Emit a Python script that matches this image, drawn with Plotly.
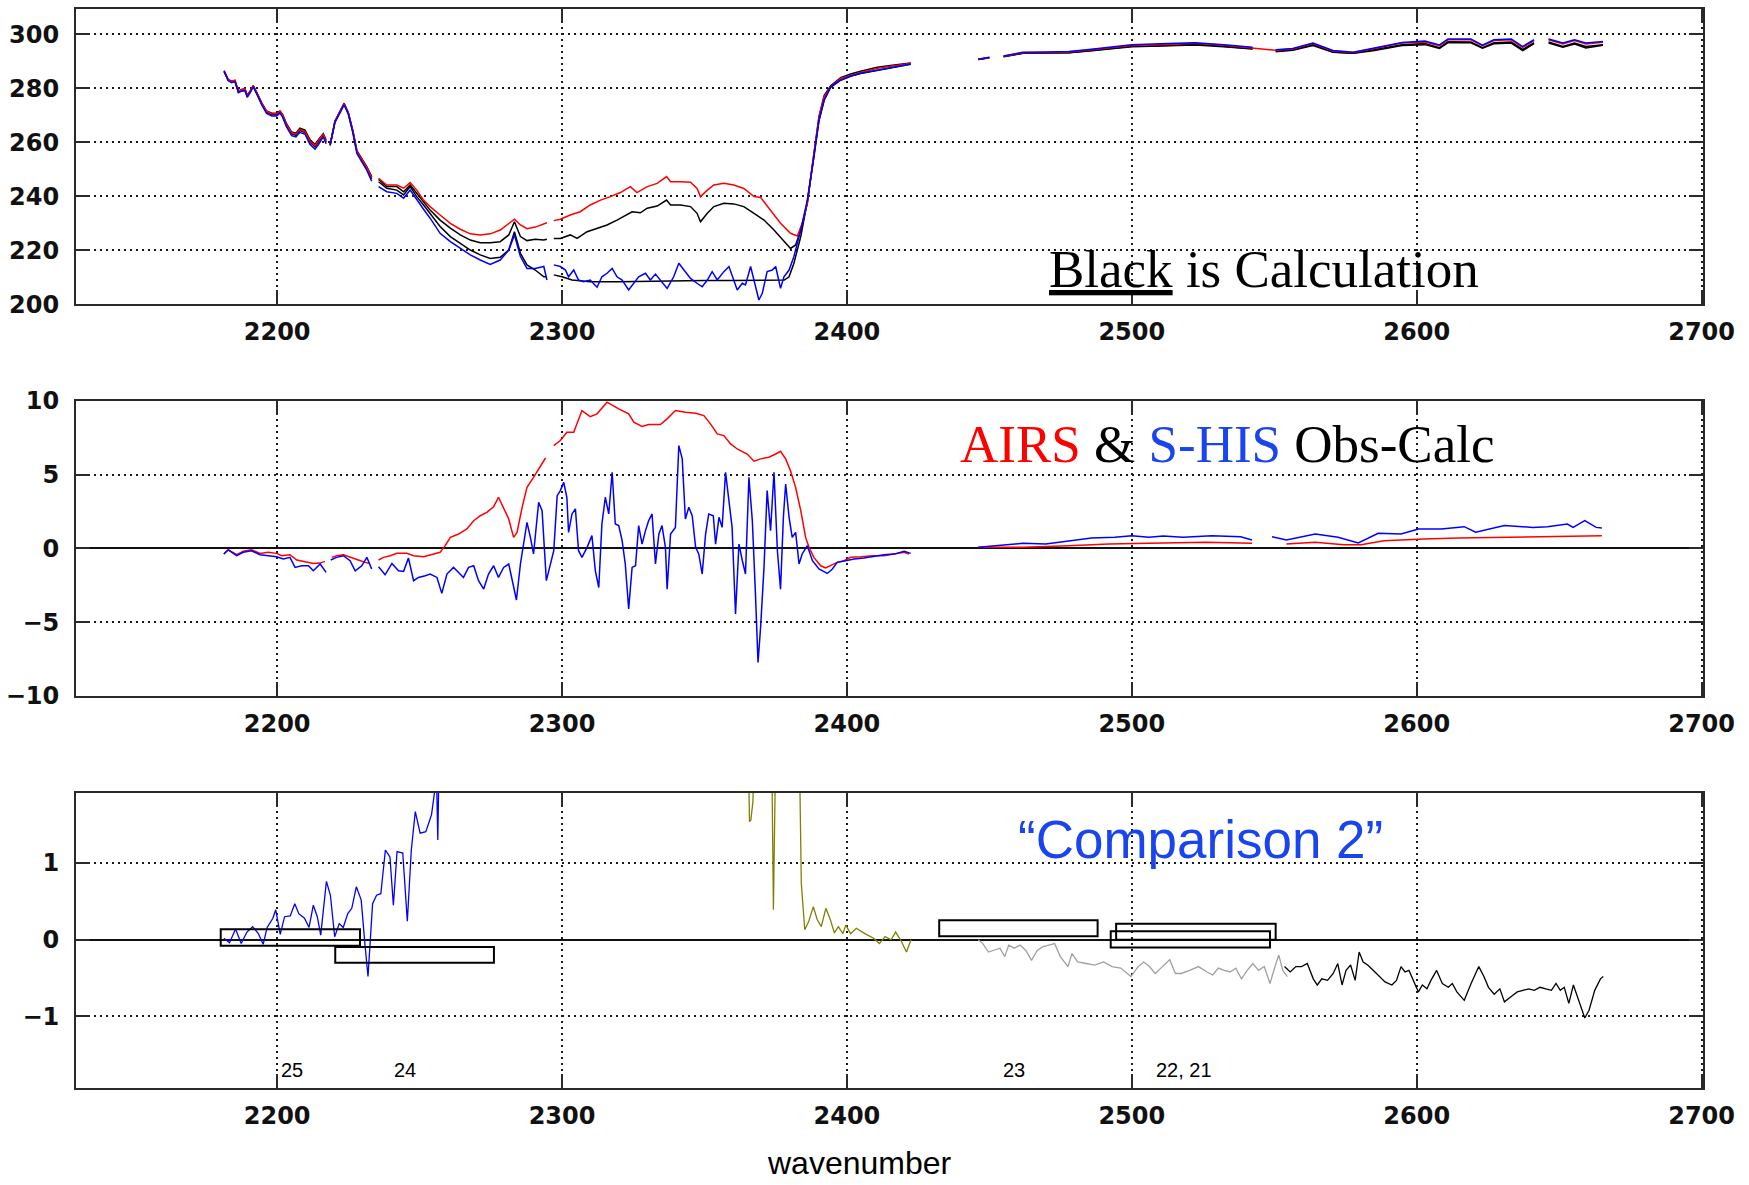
import plotly.graph_objects as go

# ======================= DATA =======================
# ---- Panel 1 : brightness temperature (K) ----
BT_X_A = [2181.4, 2182.8, 2184.0, 2185.2, 2186.4, 2187.5, 2188.7, 2189.5, 2190.5, 2191.6,
          2192.8, 2194.6, 2196.3, 2198.1, 2199.8, 2201.0, 2201.9, 2203.3, 2205.1, 2206.6,
          2208.0, 2209.8, 2211.5, 2213.3, 2214.5, 2216.2, 2217.2]
AIRS_CALC_A = [286.3, 283.3, 282.7, 282.9, 279.0, 279.6, 279.8, 277.5, 279.0, 281.0,
               278.6, 274.6, 271.6, 270.8, 270.8, 271.6, 270.4, 266.9, 263.8, 263.4,
               265.3, 264.5, 261.0, 259.2, 261.0, 263.2, 260.9]
AIRS_OBS_A = [286.6, 283.3, 282.6, 283.0, 278.9, 279.5, 279.8, 277.4, 278.9, 281.0,
              278.5, 274.5, 271.5, 270.6, 270.6, 271.6, 270.3, 266.6, 263.5, 263.0,
              264.8, 264.0, 260.5, 258.8, 260.6, 263.0, 260.4]
SHIS_CALC_A = [286.2, 283.0, 282.3, 282.6, 278.6, 279.2, 279.4, 277.0, 278.6, 280.7,
               278.2, 274.2, 271.1, 270.2, 270.2, 271.1, 269.8, 266.2, 263.1, 262.6,
               264.4, 263.6, 260.1, 258.3, 260.1, 262.4, 260.1]
SHIS_OBS_A = [286.4, 282.9, 282.1, 282.5, 278.4, 279.0, 279.1, 276.7, 278.3, 280.6,
              278.0, 273.9, 270.7, 269.8, 269.8, 270.8, 269.4, 265.7, 262.5, 262.0,
              263.7, 263.0, 259.3, 257.5, 259.2, 262.0, 259.5]

BT_X_B = [2218.6, 2220.3, 2222.1, 2223.5, 2225.0, 2226.6, 2228.0, 2229.7, 2231.5, 2233.2]
AIRS_CALC_B = [259.2, 267.9, 271.6, 274.5, 271.0, 264.3, 256.9, 254.0, 250.9, 247.3]
AIRS_OBS_B = [259.1, 267.8, 271.5, 274.4, 270.9, 264.1, 256.7, 253.8, 250.6, 247.0]
SHIS_CALC_B = [259.0, 267.6, 271.3, 274.2, 270.7, 263.8, 256.4, 253.3, 250.2, 246.5]
SHIS_OBS_B = [258.8, 267.4, 271.0, 273.9, 270.4, 263.4, 255.9, 252.8, 249.6, 245.6]

BT_X_C = [2235.6, 2238.5, 2242.0, 2244.4, 2246.7, 2249.0, 2251.4, 2253.7, 2257.2, 2260.8,
          2264.3, 2267.8, 2271.3, 2274.8, 2278.3, 2281.3, 2283.3, 2285.4, 2287.7, 2290.6,
          2293.6, 2294.7]
AIRS_OBS_C = [246.7, 244.2, 244.2, 243.0, 245.1, 242.3, 238.6, 236.2, 233.1, 230.0,
              227.8, 226.1, 225.7, 226.1, 227.5, 230.0, 231.5, 229.4, 228.0, 228.6,
              229.8, 230.2]
AIRS_CALC_C = [246.3, 243.6, 243.6, 241.7, 244.2, 241.1, 237.7, 234.9, 231.2, 228.2,
               225.7, 223.8, 222.8, 222.8, 223.2, 225.7, 230.6, 225.1, 223.6, 224.1,
               223.8, 224.1]
SHIS_CALC_C = [245.4, 243.0, 242.3, 240.5, 243.6, 239.9, 236.8, 233.7, 228.8, 225.1,
               222.6, 220.1, 218.3, 217.0, 217.4, 220.1, 226.9, 218.9, 214.6, 212.7,
               210.2, 210.2]
SHIS_OBS_C = [243.6, 241.7, 241.1, 239.3, 242.3, 238.6, 235.2, 231.9, 226.3, 223.2,
              220.7, 218.3, 216.4, 214.8, 216.4, 220.1, 225.7, 217.7, 213.3, 213.3,
              214.0, 209.0]

AIRS_OBS_D_X = [2297.1, 2299.4, 2302.9, 2306.4, 2309.9, 2313.5, 2317.0, 2320.5, 2324.0, 2326.3,
                2329.9, 2333.4, 2336.7, 2338.1, 2341.6, 2345.1, 2347.4, 2348.6, 2351.0, 2353.3,
                2356.8, 2360.3, 2363.8, 2367.4, 2369.7, 2373.2, 2376.7, 2380.2, 2382.6, 2384.3,
                2386.1, 2388.4, 2390.2, 2392.0, 2394.3, 2397.8, 2401.3, 2404.8, 2410.7, 2416.6,
                2422.4]
AIRS_OBS_D = [231.0, 231.5, 233.1, 234.3, 236.8, 238.6, 239.9, 241.4, 243.6, 241.4,
              243.6, 244.8, 247.3, 245.4, 245.4, 245.2, 242.9, 239.9, 242.3, 244.2,
              244.8, 244.2, 242.9, 239.9, 239.6, 234.9, 230.0, 226.3, 225.3, 230.0,
              237.4, 255.9, 269.5, 276.9, 280.6, 283.7, 284.9, 285.9, 287.4, 288.4,
              289.3]
AIRS_CALC_D_X = [2297.1, 2299.4, 2302.9, 2305.3, 2308.8, 2312.3, 2315.8, 2319.3, 2322.8, 2324.6,
                 2327.5, 2329.9, 2333.4, 2336.7, 2338.1, 2341.6, 2345.1, 2347.4, 2348.6, 2351.0,
                 2353.3, 2356.8, 2360.3, 2363.8, 2367.4, 2370.9, 2374.4, 2377.9, 2380.2, 2382.0,
                 2383.8, 2386.1, 2388.4, 2390.2, 2392.0, 2394.3, 2397.8, 2401.3, 2404.8, 2410.7,
                 2416.6, 2422.4]
AIRS_CALC_D = [224.4, 224.4, 225.7, 224.4, 226.9, 228.2, 229.4, 231.2, 233.1, 234.3,
               233.9, 235.6, 236.4, 238.6, 236.8, 236.8, 236.2, 233.7, 230.6, 233.7,
               236.2, 237.4, 237.2, 236.2, 233.7, 231.2, 227.5, 223.2, 220.7, 222.0,
               227.5, 237.4, 255.5, 269.5, 277.3, 281.0, 284.0, 285.3, 286.3, 287.8,
               288.7, 289.4]
SHIS_CALC_D_X = [2297.1, 2300.0, 2303.5, 2309.9, 2320.0, 2330.0, 2340.0, 2350.0, 2360.0, 2370.0,
                 2378.0, 2379.7, 2381.4, 2383.8, 2386.1, 2388.4, 2390.2, 2392.0, 2394.3, 2397.8,
                 2401.3, 2404.8, 2410.7, 2416.6, 2422.4]
SHIS_CALC_D = [210.9, 210.2, 209.0, 208.4, 208.4, 208.6, 208.8, 208.8, 208.8, 208.8,
               209.0, 210.2, 215.2, 225.1, 238.0, 254.5, 268.0, 275.5, 280.4, 283.0,
               284.5, 285.5, 286.7, 287.9, 288.9]
SHIS_OBS_D_X = [2297.1, 2299.4, 2301.2, 2302.3, 2304.1, 2305.8, 2307.6, 2309.9, 2312.3, 2314.0,
                2315.8, 2317.6, 2319.3, 2321.1, 2323.4, 2325.2, 2326.9, 2329.3, 2331.0, 2332.8,
                2334.5, 2336.9, 2339.2, 2341.0, 2342.8, 2345.1, 2347.4, 2349.2, 2351.0, 2352.7,
                2354.5, 2356.8, 2358.6, 2360.3, 2361.5, 2363.3, 2364.4, 2366.2, 2367.9, 2369.1,
                2370.3, 2372.0, 2373.8, 2375.0, 2376.7, 2377.9, 2379.7, 2381.4, 2383.8, 2386.1,
                2388.4, 2390.2, 2392.0, 2394.3, 2397.8, 2401.3, 2404.8, 2410.7, 2416.6, 2422.4]
SHIS_OBS_D = [214.6, 214.0, 212.7, 210.2, 212.7, 209.0, 208.4, 209.0, 206.3, 210.2,
              211.5, 213.3, 210.2, 209.0, 205.3, 207.8, 210.2, 211.5, 209.0, 211.2,
              209.0, 205.9, 210.2, 215.2, 212.7, 209.6, 207.8, 206.5, 209.0, 212.1,
              209.0, 212.1, 214.0, 209.0, 205.3, 207.8, 207.2, 214.0, 206.5, 201.6,
              204.1, 212.1, 212.7, 214.0, 205.9, 210.2, 212.7, 217.7, 227.5, 238.6,
              254.7, 268.3, 275.7, 280.6, 283.1, 284.6, 285.6, 286.8, 288.0, 289.0]

BT_X_R = [2446.1, 2450.0, 2452.0, 2455.0, 2461.8, 2470.0, 2477.9, 2485.0, 2492.0, 2500.0,
          2510.0, 2522.2, 2532.3, 2542.4, 2546.0, 2550.5, 2556.5, 2563.6, 2570.6, 2577.7,
          2584.7, 2594.9, 2602.9, 2608.0, 2611.0, 2619.0, 2623.1, 2627.1, 2633.2, 2637.2,
          2641.2, 2643.5, 2646.3, 2651.3, 2655.4, 2659.4, 2665.4]
AIRS_OBS_R = [290.8, 291.4, None, 291.9, 293.2, 293.3, 293.5, 294.2, 295.0, 295.9,
              296.2, 296.7, 296.0, 295.0, 294.4, 294.1, 294.6, 296.6, 293.8, 293.3,
              294.7, 296.8, 297.2, 295.8, 298.0, 298.0, 295.8, 297.7, 298.0, 295.2,
              297.7, None, 298.0, 296.4, 297.7, 296.4, 297.1]
AIRS_CALC_R = [290.7, 291.3, None, 291.8, 293.0, 293.1, 293.2, 293.9, 294.7, 295.6,
               295.8, 296.3, 295.6, 294.7, None, 293.8, 294.3, 296.2, 293.5, 293.0,
               294.2, 296.2, 296.6, 295.1, 297.3, 297.2, 295.1, 296.9, 297.2, 294.4,
               296.9, None, 297.2, 295.5, 296.8, 295.5, 296.2]
SHIS_OBS_R = [290.8, 291.5, None, 292.0, 293.4, 293.5, 293.7, 294.4, 295.3, 296.2,
              296.5, 296.9, 296.2, 295.2, None, 294.3, 294.8, 296.8, 294.0, 293.4,
              294.9, 297.0, 297.5, 296.1, 298.3, 298.3, 296.0, 298.0, 298.3, 295.5,
              298.0, None, 298.3, 296.8, 298.0, 296.8, 297.4]
SHIS_CALC_R = [290.7, 291.3, None, 291.7, 293.0, 293.2, 293.2, 293.8, 294.6, 295.4,
               295.7, 296.1, 295.4, 294.6, None, 293.6, 294.1, 295.9, 293.4, 293.0,
               293.9, 295.9, 296.2, 294.8, 296.9, 296.9, 294.9, 296.5, 296.8, 294.0,
               296.6, None, 296.8, 295.2, 296.4, 295.0, 296.0]

# ---- Panel 2 : Obs - Calc (K) ----
AIRS_DIFF_X_A = [2181.3, 2182.8, 2185.8, 2188.1, 2191.0, 2194.0, 2196.9, 2199.8, 2201.6, 2204.5,
                 2206.9, 2209.8, 2212.7, 2215.1, 2216.8]
AIRS_DIFF_A = [-0.38, -0.09, -0.43, -0.2, -0.09, -0.34, -0.27, -0.34, -0.5, -0.43,
               -0.79, -0.88, -1.02, -1.0, -0.88]
AIRS_DIFF_X_B = [2219.2, 2220.9, 2223.3, 2225.6, 2228.5, 2230.9, 2232.6]
AIRS_DIFF_B = [-0.61, -0.5, -0.43, -0.57, -0.79, -0.95, -1.02]
AIRS_DIFF_X_C = [2235.6, 2237.3, 2239.7, 2242.0, 2245.5, 2247.9, 2251.4, 2254.3, 2257.2, 2259.0,
                 2260.8, 2263.7, 2266.6, 2269.0, 2271.3, 2273.6, 2276.0, 2277.7, 2279.5, 2281.3,
                 2283.0, 2284.2, 2286.0, 2287.7, 2290.0, 2292.4, 2294.2]
AIRS_DIFF_C = [-0.79, -0.61, -0.5, -0.34, -0.34, -0.5, -0.57, -0.43, -0.27, 0.18,
               0.74, 0.97, 1.31, 1.87, 2.21, 2.44, 2.82, 3.46, 2.73, 1.99,
               0.74, 1.08, 2.78, 4.13, 4.81, 5.6, 6.12]
AIRS_DIFF_X_D = [2297.1, 2299.4, 2301.7, 2304.1, 2307.0, 2309.9, 2312.3, 2315.8, 2319.9, 2323.4,
                 2325.2, 2328.1, 2330.4, 2334.5, 2336.9, 2339.8, 2343.3, 2346.9, 2349.8, 2352.1,
                 2354.5, 2356.8, 2359.2, 2361.5, 2365.0, 2367.4, 2369.7, 2372.6, 2375.0, 2376.7,
                 2378.5, 2380.2, 2382.0, 2383.8, 2385.5, 2386.7, 2388.4, 2390.8, 2392.5, 2394.3,
                 2396.6, 2399.0, 2401.3, 2404.9, 2409.0, 2413.0, 2416.6, 2420.1, 2421.8]
AIRS_DIFF_D = [6.96, 7.3, 7.86, 7.86, 9.33, 8.92, 9.11, 9.9, 9.45, 9.11,
               8.54, 8.25, 8.38, 8.38, 8.77, 9.33, 9.22, 9.15, 8.99, 8.43,
               7.75, 7.64, 7.07, 6.73, 6.39, 5.9, 6.06, 6.17, 6.39, 6.57,
               6.06, 5.26, 4.13, 2.55, 0.74, 0.07, -0.61, -1.18, -1.33, -1.18,
               -0.95, -0.84, -0.61, -0.57, -0.5, -0.5, -0.39, -0.27, -0.39]
AIRS_DIFF_X_R = [2446.1, 2461.8, 2477.9, 2492.0, 2506.0, 2526.1, 2542.2, 2546.0, 2554.3, 2564.4,
                 2574.4, 2580.5, 2588.5, 2596.6, 2602.6, 2614.7, 2626.8, 2642.9, 2652.9, 2665.0]
AIRS_DIFF_R = [0.07, 0.07, 0.18, 0.29, 0.34, 0.41, 0.34, None, 0.29, 0.41,
               0.25, 0.25, 0.52, 0.56, 0.63, 0.7, 0.75, 0.79, 0.86, 0.86]

SHIS_DIFF_X_A = [2181.3, 2182.8, 2185.8, 2188.1, 2191.0, 2194.0, 2196.9, 2199.8, 2202.2, 2204.5,
                 2206.3, 2208.6, 2211.0, 2212.7, 2215.1, 2217.2]
SHIS_DIFF_A = [-0.38, -0.11, -0.5, -0.27, -0.16, -0.43, -0.5, -0.57, -0.72, -0.61,
               -1.29, -1.18, -1.18, -1.52, -1.06, -1.63]
SHIS_DIFF_X_B = [2218.8, 2220.9, 2223.3, 2225.6, 2227.4, 2229.7, 2231.5, 2233.2]
SHIS_DIFF_B = [-0.79, -0.61, -0.5, -0.84, -1.52, -1.18, -0.61, -1.4]
SHIS_DIFF_X_C = [2235.6, 2237.9, 2240.3, 2242.6, 2244.4, 2246.1, 2247.9, 2249.6, 2252.0, 2253.7,
                 2256.1, 2257.8, 2259.6, 2261.9, 2263.7, 2265.4, 2267.2, 2269.0, 2270.7, 2272.5,
                 2274.2, 2276.0, 2277.7, 2279.5, 2281.3, 2283.0, 2284.0, 2285.4, 2286.5, 2287.7,
                 2288.9, 2290.0, 2291.8, 2293.0, 2294.5,
                 2297.1, 2298.3, 2299.4, 2300.6, 2301.7, 2302.3, 2303.5, 2304.7, 2305.8, 2307.0,
                 2308.8, 2310.5, 2311.7, 2312.9, 2314.0, 2315.2, 2316.4, 2317.6, 2318.7, 2319.9,
                 2321.1, 2322.2, 2323.4, 2324.6, 2325.8, 2326.9, 2328.1, 2329.3, 2330.4, 2331.6,
                 2332.8, 2334.0, 2335.1, 2336.3, 2336.9, 2338.1, 2339.8, 2341.0, 2342.2, 2343.3,
                 2344.5, 2345.7, 2346.9, 2348.0, 2349.2, 2350.4, 2351.5, 2353.1, 2353.9, 2355.1,
                 2356.2, 2357.4, 2358.6, 2359.7, 2360.9, 2362.1, 2363.3, 2364.4, 2365.6, 2366.8,
                 2367.9, 2368.8, 2369.7, 2370.9, 2372.0, 2373.2, 2374.4, 2375.6, 2376.7, 2377.7,
                 2378.5, 2379.7, 2380.8, 2382.0, 2383.2, 2384.3, 2386.1, 2387.9, 2390.2, 2393.1,
                 2394.9, 2396.6, 2399.6, 2402.5, 2406.0, 2409.5, 2413.0, 2416.6, 2420.1, 2422.4]
SHIS_DIFF_C = [-1.24, -1.79, -1.02, -1.52, -1.56, -0.66, -2.19, -1.97, -1.85, -1.74,
               -1.97, -3.05, -1.74, -1.29, -1.63, -1.97, -1.29, -1.18, -2.19, -2.76,
               -1.74, -1.18, -1.97, -1.29, -1.06, -2.53, -3.5, -1.06, 0.29, 1.76,
               0.74, -0.38, 3.12, 2.55, -2.19,
               -0.16, 3.57, 3.91, 4.47, 3.46, 1.08, 2.33, 2.67, -0.16, -0.61,
               0.07, 0.86, -1.52, -2.65, 1.65, 3.46, 2.33, 5.15, 1.65, 1.54,
               0.52, -1.06, -4.11, -1.29, -1.18, 1.54, 0.29, 1.2, 1.87, 2.33,
               -1.06, 0.97, 1.54, 0.07, -2.76, 0.97, 1.42, 6.96, 6.06, 1.99,
               2.78, 2.21, 0.07, -0.38, -1.74, 0.97, 2.33, 2.21, 0.29, 2.1,
               1.42, 5.15, 3.34, 1.42, -4.45, 0.29, -0.84, -1.74, 4.81, 1.87,
               -3.1, -7.73, -5.36, -1.29, 3.91, 1.2, 5.15, -0.16, -2.76, 2.1,
               4.36, 2.1, 0.74, 1.08, -1.06, -0.38, 0.18, -0.84, -1.4, -1.7,
               -1.4, -0.95, -0.84, -0.72, -0.66, -0.57, -0.43, -0.39, -0.2, -0.34]
SHIS_DIFF_X_R = [2446.1, 2453.7, 2461.8, 2469.8, 2477.9, 2485.9, 2494.0, 2500.0, 2506.0, 2511.0,
                 2518.0, 2528.1, 2538.2, 2542.2, 2545.5, 2549.2, 2554.3, 2564.4, 2572.4, 2579.5,
                 2586.5, 2594.5, 2600.6, 2608.6, 2616.7, 2620.7, 2630.8, 2640.8, 2645.9, 2652.9,
                 2654.9, 2659.0, 2663.0, 2665.0]
SHIS_DIFF_R = [0.07, 0.18, 0.34, 0.29, 0.52, 0.7, 0.75, 0.86, 0.75, 0.84,
               0.75, 0.86, 0.79, 0.56, None, 0.79, 0.56, 0.97, 0.75, 0.36,
               1.02, 0.97, 1.31, 1.31, 1.47, 1.09, 1.54, 1.42, 1.47, 1.65,
               1.42, 1.88, 1.42, 1.38]

# ---- Panel 3 : "Comparison 2" (K) ----
CMP_BLUE_X = [2181.3, 2183.3, 2185.4, 2187.4, 2189.4, 2191.4, 2193.4, 2195.1, 2196.5, 2198.5,
              2199.5, 2201.1, 2202.6, 2204.6, 2206.2, 2207.6, 2209.6, 2211.2, 2212.7, 2214.1,
              2215.3, 2216.3, 2217.3, 2218.7, 2220.2, 2221.8, 2223.2, 2224.8, 2226.2, 2227.8,
              2229.5, 2230.9, 2231.9, 2233.5, 2234.9, 2236.4, 2238.0, 2239.6, 2240.8, 2242.1,
              2244.1, 2245.7, 2247.1, 2248.5, 2250.2, 2252.2, 2254.2, 2255.2, 2255.8, 2256.4,
              2256.9]
CMP_BLUE = [0.02, -0.04, 0.14, -0.05, 0.10, 0.17, 0.08, -0.06, 0.16, 0.28,
            0.39, 0.07, 0.30, 0.31, 0.47, 0.34, 0.28, 0.16, 0.45, 0.30,
            0.06, 0.39, 0.76, 0.58, 0.04, 0.21, 0.16, 0.34, 0.41, 0.69,
            0.52, -0.09, -0.48, 0.47, 0.58, 0.60, 1.17, 1.08, 0.45, 1.15,
            1.13, 0.24, 1.17, 1.67, 1.39, 1.41, 1.63, 1.91, 2.4, 1.30,
            2.5]
CMP_OLIVE_X = [2365.4, 2365.8, 2366.3, 2367.0, 2367.5, 2373.6, 2374.2, 2374.6, 2375.0, 2383.3,
               2384.0, 2385.2, 2386.6, 2388.2, 2389.6, 2391.0, 2392.6, 2394.2, 2395.6, 2397.0,
               2398.6, 2399.6, 2401.3, 2403.3, 2406.3, 2409.4, 2411.4, 2413.4, 2415.5, 2417.1,
               2419.1, 2420.9, 2422.5]
CMP_OLIVE = [2.5, 1.54, 1.56, 1.8, 2.5, 2.5, 0.39, 1.17, 2.5, 2.5,
             0.73, 0.13, 0.24, 0.43, 0.26, 0.17, 0.41, 0.26, 0.09, 0.17,
             0.08, 0.19, 0.08, 0.15, 0.08, 0.02, -0.05, 0.04, 0.0, 0.10,
             -0.02, -0.16, 0.0]
CMP_GREY_X = [2446.1, 2447.7, 2449.7, 2451.7, 2453.7, 2455.4, 2456.8, 2458.8, 2460.8, 2462.8,
              2464.8, 2466.8, 2468.9, 2470.9, 2472.9, 2474.9, 2477.6, 2479.0, 2481.0, 2484.0,
              2487.0, 2490.1, 2493.1, 2496.1, 2499.7, 2502.2, 2504.2, 2506.2, 2508.2, 2510.2,
              2513.3, 2515.3, 2517.3, 2520.3, 2523.4, 2526.4, 2528.4, 2530.4, 2532.4, 2534.5,
              2536.5, 2538.5, 2540.5, 2542.5, 2544.5, 2546.5, 2548.5, 2550.6, 2551.6, 2553.0,
              2554.6]
CMP_GREY = [0.0, -0.05, -0.16, -0.14, -0.11, -0.22, -0.07, -0.11, -0.07, -0.14,
            -0.27, -0.14, -0.09, -0.07, -0.05, -0.22, -0.35, -0.18, -0.29, -0.31,
            -0.33, -0.29, -0.35, -0.37, -0.48, -0.35, -0.29, -0.35, -0.44, -0.37,
            -0.26, -0.44, -0.44, -0.40, -0.35, -0.42, -0.46, -0.37, -0.40, -0.42,
            -0.37, -0.51, -0.40, -0.31, -0.40, -0.35, -0.57, -0.31, -0.20, -0.40,
            -0.48]
CMP_BLACK_X = [2553.6, 2555.6, 2557.6, 2559.6, 2561.6, 2563.7, 2565.1, 2566.7, 2568.7, 2570.7,
               2572.3, 2573.8, 2575.2, 2576.8, 2578.4, 2579.8, 2581.2, 2582.8, 2584.8, 2586.9,
               2588.9, 2591.3, 2592.9, 2594.5, 2595.9, 2597.3, 2598.9, 2600.6, 2602.0, 2603.6,
               2605.0, 2607.0, 2609.0, 2611.1, 2612.5, 2614.1, 2616.7, 2619.1, 2621.8, 2623.6,
               2625.2, 2627.2, 2629.2, 2630.8, 2633.2, 2635.3, 2637.3, 2639.3, 2641.3, 2643.3,
               2645.3, 2647.3, 2648.9, 2650.4, 2651.8, 2653.4, 2655.0, 2656.4, 2657.8, 2659.0,
               2660.5, 2662.5, 2664.5, 2665.5]
CMP_BLACK = [-0.35, -0.42, -0.35, -0.35, -0.31, -0.51, -0.59, -0.51, -0.53, -0.44,
             -0.31, -0.59, -0.40, -0.33, -0.53, -0.16, -0.29, -0.33, -0.40, -0.48,
             -0.55, -0.59, -0.53, -0.35, -0.42, -0.40, -0.53, -0.68, -0.59, -0.64,
             -0.53, -0.40, -0.57, -0.62, -0.57, -0.68, -0.79, -0.57, -0.35, -0.48,
             -0.62, -0.71, -0.64, -0.81, -0.74, -0.68, -0.66, -0.64, -0.66, -0.62,
             -0.64, -0.66, -0.57, -0.66, -0.62, -0.83, -0.59, -0.74, -0.92, -1.02,
             -0.92, -0.66, -0.51, -0.48]

# band boxes in panel 3: (x0, x1, y0, y1)
BAND_BOXES = [(2180.2, 2229.1, -0.077, 0.136),
              (2220.4, 2276.1, -0.30, -0.095),
              (2432.4, 2488.0, 0.044, 0.253),
              (2494.5, 2550.5, 0.0, 0.21),
              (2492.6, 2548.5, -0.10, 0.11)]
BAND_LABELS = ["25", "24", "23", "22, 21"]
BAND_LABEL_X = [2205.1, 2244.8, 2458.8, 2518.4]

X_TICKS = [2200, 2300, 2400, 2500, 2600, 2700]
Y1_TICKS = [200, 220, 240, 260, 280, 300]
Y2_TICKS = [-10, -5, 0, 5, 10]
Y3_TICKS = [-1, 0, 1]

# ======================= FIGURE =======================
def join(*blocks):
    xs, ys = [], []
    for i, (bx, by) in enumerate(blocks):
        n = min(len(bx), len(by))
        if i:
            xs.append(None)
            ys.append(None)
        xs.extend(bx[:n])
        ys.extend(by[:n])
    return xs, ys

RED = "#ff0000"
BLUE = "#0000ff"
fig = go.Figure()

def add(blocks, color, xa, ya, width=1.5):
    x, y = join(*blocks)
    fig.add_trace(go.Scatter(x=x, y=y, mode="lines", xaxis=xa, yaxis=ya,
                             line=dict(color=color, width=width), hoverinfo="skip",
                             connectgaps=False, showlegend=False))

# panel 1
add([(BT_X_A, AIRS_CALC_A), (BT_X_B, AIRS_CALC_B), (BT_X_C, AIRS_CALC_C),
     (AIRS_CALC_D_X, AIRS_CALC_D), (BT_X_R, AIRS_CALC_R)], "#000000", "x", "y")
add([(BT_X_A, SHIS_CALC_A), (BT_X_B, SHIS_CALC_B), (BT_X_C, SHIS_CALC_C),
     (SHIS_CALC_D_X, SHIS_CALC_D), (BT_X_R, SHIS_CALC_R)], "#000000", "x", "y")
add([(BT_X_A, AIRS_OBS_A), (BT_X_B, AIRS_OBS_B), (BT_X_C, AIRS_OBS_C),
     (AIRS_OBS_D_X, AIRS_OBS_D), (BT_X_R, AIRS_OBS_R)], RED, "x", "y")
add([(BT_X_A, SHIS_OBS_A), (BT_X_B, SHIS_OBS_B), (BT_X_C, SHIS_OBS_C),
     (SHIS_OBS_D_X, SHIS_OBS_D), (BT_X_R, SHIS_OBS_R)], BLUE, "x", "y")

# panel 2
add([(AIRS_DIFF_X_A, AIRS_DIFF_A), (AIRS_DIFF_X_B, AIRS_DIFF_B), (AIRS_DIFF_X_C, AIRS_DIFF_C),
     (AIRS_DIFF_X_D, AIRS_DIFF_D), (AIRS_DIFF_X_R, AIRS_DIFF_R)], RED, "x2", "y2")
add([(SHIS_DIFF_X_A, SHIS_DIFF_A), (SHIS_DIFF_X_B, SHIS_DIFF_B), (SHIS_DIFF_X_C, SHIS_DIFF_C),
     (SHIS_DIFF_X_R, SHIS_DIFF_R)], BLUE, "x2", "y2")

# panel 3
add([(CMP_BLUE_X, CMP_BLUE)], BLUE, "x3", "y3", 1.3)
add([(CMP_OLIVE_X, CMP_OLIVE)], "#808000", "x3", "y3", 1.3)
add([(CMP_GREY_X, CMP_GREY)], "#a0a0a0", "x3", "y3", 1.3)
add([(CMP_BLACK_X, CMP_BLACK)], "#000000", "x3", "y3", 1.3)

W, H = 1749, 1185
XD = [76 / W, 1703 / W]
FRAME = "#2a2a2a"

def axis(**kw):
    d = dict(showline=True, linecolor=FRAME, linewidth=2, mirror="ticks",
             ticks="inside", ticklen=14, tickwidth=2, tickcolor=FRAME,
             showgrid=True, gridcolor="#1a1a1a", gridwidth=1.5, griddash="2px,4px",
             tickfont=dict(family="DejaVu Sans", size=24, color="#111111", weight="bold"),
             zeroline=False, layer="above traces", automargin=False)
    d.update(kw)
    return d

xr = [2129.4, 2700.5]
panels = [(9, 304.3), (400.7, 696.0), (792.7, 1088.3)]
dom = [[1 - b / H, 1 - t / H] for t, b in panels]

layout = dict(
    width=W, height=H, margin=dict(l=0, r=0, t=0, b=0, autoexpand=False),
    paper_bgcolor="white", plot_bgcolor="white", showlegend=False,
    xaxis=axis(domain=XD, range=xr, tickvals=X_TICKS, anchor="y", ticklabelstandoff=5),
    yaxis=axis(domain=dom[0], range=[200, 309.4], tickvals=Y1_TICKS, anchor="x", ticklabelstandoff=10),
    xaxis2=axis(domain=XD, range=xr, tickvals=X_TICKS, anchor="y2", ticklabelstandoff=5),
    yaxis2=axis(domain=dom[1], range=[-10, 10], tickvals=Y2_TICKS, anchor="x2", ticklabelstandoff=10,
                zeroline=True, zerolinecolor="#111111", zerolinewidth=2),
    xaxis3=axis(domain=XD, range=xr, tickvals=X_TICKS, anchor="y3", ticklabelstandoff=5),
    yaxis3=axis(domain=dom[2], range=[-1.937, 1.917], tickvals=Y3_TICKS, anchor="x3", ticklabelstandoff=10,
                zeroline=True, zerolinecolor="#111111", zerolinewidth=2),
)
fig.update_layout(**layout)

annotations = [
    dict(text="<u>Black</u> is Calculation", xref="paper", yref="paper",
         x=1263.5 / W, y=1 - 269 / H, xanchor="center", yanchor="middle", showarrow=False,
         font=dict(family="Liberation Serif", size=53, color="black")),
    dict(text='<span style="color:#ff0000">AIRS</span> &amp; '
              '<span style="color:#1a45ee">S-HIS</span> Obs-Calc',
         xref="paper", yref="paper", x=1227 / W, y=1 - 443.8 / H,
         xanchor="center", yanchor="middle", showarrow=False,
         font=dict(family="Liberation Serif", size=53, color="black")),
    dict(text="\u201cComparison 2\u201d", xref="paper", yref="paper",
         x=1200 / W, y=1 - 839.6 / H, xanchor="center", yanchor="middle", showarrow=False,
         font=dict(family="Liberation Sans", size=53, color="#1a45ee")),
    dict(text="wavenumber", xref="paper", yref="paper",
         x=859 / W, y=1 - 1163 / H, xanchor="center", yanchor="middle", showarrow=False,
         font=dict(family="Liberation Sans", size=32, color="black")),
]
for lab, lx in zip(BAND_LABELS, BAND_LABEL_X):
    annotations.append(dict(text=lab, xref="x3", yref="y3", x=lx, y=-1.70,
                            xanchor="center", yanchor="middle", showarrow=False,
                            font=dict(family="Liberation Sans", size=20, color="black")))
fig.update_layout(annotations=annotations)

shapes = []
for (x0, x1, y0, y1) in BAND_BOXES:
    shapes.append(dict(type="rect", xref="x3", yref="y3", x0=x0, x1=x1, y0=y0, y1=y1,
                       line=dict(color="black", width=2), fillcolor="rgba(0,0,0,0)"))
fig.update_layout(shapes=shapes)

fig.write_html("out.html")
